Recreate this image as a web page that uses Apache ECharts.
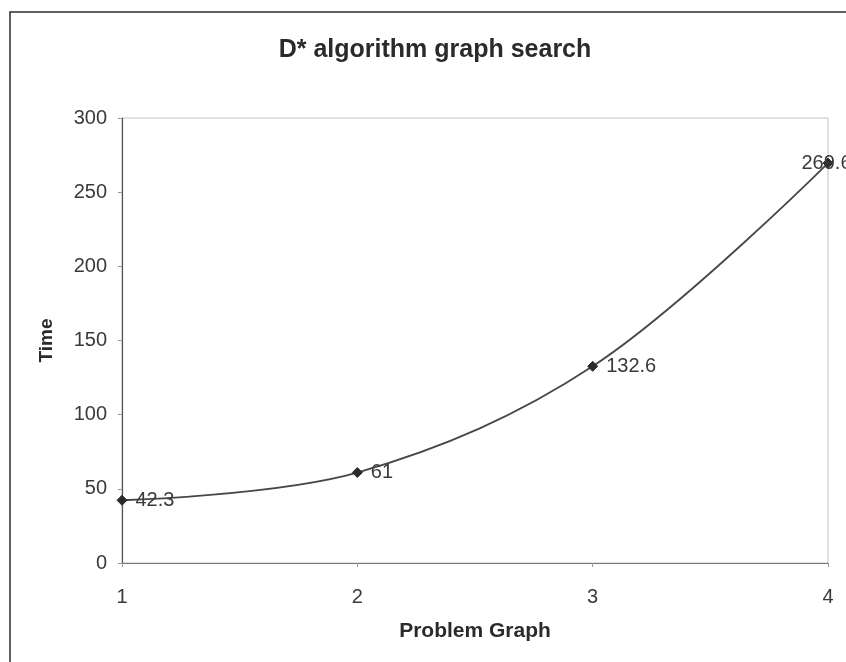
<!DOCTYPE html>
<html>
<head>
<meta charset="utf-8">
<script src="https://cdn.jsdelivr.net/npm/echarts@6/dist/echarts.min.js"></script>
<style>
  html, body { margin: 0; padding: 0; background: #ffffff; }
  #chart { width: 846px; height: 662px; }
</style>
</head>
<body>
<div id="chart"></div>
<script>
// Problem graph index on the x axis, measured search time on the y axis
var problemGraphs = ['1', '2', '3', '4'];
var searchTimes = [42.3, 61, 132.6, 269.6];
var timeTicks = [0, 50, 100, 150, 200, 250, 300];

var FONT = '"Liberation Sans", Arial, sans-serif';

var seriesData = searchTimes.map(function (v, i) {
  var item = { value: v };
  // the last label sits over its marker so it stays inside the frame
  if (i === searchTimes.length - 1) {
    item.label = { offset: [-40, 0] };
  }
  return item;
});

var chart = echarts.init(document.getElementById('chart'), null, { renderer: 'canvas' });

chart.setOption({
  backgroundColor: '#ffffff',
  animation: false,
  title: {
    text: 'D* algorithm graph search',
    left: 430,
    top: 33,
    textAlign: 'center',
    textStyle: {
      fontFamily: FONT,
      fontSize: 25,
      fontWeight: 'bold',
      color: '#2a2a2a'
    }
  },
  graphic: [
    {
      // outer chart frame
      type: 'rect',
      shape: { x: 10, y: 12, width: 900, height: 720 },
      style: { fill: 'none', stroke: '#2b2b2b', lineWidth: 1.5 },
      silent: true
    }
  ],
  grid: {
    left: 122,
    right: 18,
    top: 118,
    bottom: 99,
    show: true,
    borderColor: '#c4c4c4',
    borderWidth: 1,
    backgroundColor: '#ffffff'
  },
  xAxis: {
    type: 'category',
    data: problemGraphs,
    boundaryGap: false,
    name: 'Problem Graph',
    nameLocation: 'middle',
    nameGap: 58,
    nameTextStyle: {
      fontFamily: FONT,
      fontSize: 21,
      fontWeight: 'bold',
      color: '#2a2a2a'
    },
    axisLine: { show: true, lineStyle: { color: '#777777', width: 1.2 } },
    axisTick: { show: true, alignWithLabel: true, length: 4, lineStyle: { color: '#999999' } },
    axisLabel: {
      fontFamily: FONT,
      fontSize: 20,
      color: '#3a3a3a',
      margin: 24
    },
    splitLine: { show: false }
  },
  yAxis: {
    type: 'value',
    min: timeTicks[0],
    max: timeTicks[timeTicks.length - 1],
    interval: timeTicks[1] - timeTicks[0],
    name: 'Time',
    nameLocation: 'middle',
    nameGap: 66,
    nameRotate: 90,
    nameTextStyle: {
      fontFamily: FONT,
      fontSize: 19,
      fontWeight: 'bold',
      color: '#2a2a2a'
    },
    axisLine: { show: true, lineStyle: { color: '#555555', width: 1.2 } },
    axisTick: { show: true, length: 4, lineStyle: { color: '#999999' } },
    axisLabel: {
      fontFamily: FONT,
      fontSize: 20,
      color: '#3a3a3a',
      margin: 15
    },
    splitLine: { show: false }
  },
  series: [
    {
      type: 'line',
      data: seriesData,
      smooth: 0.35,
      symbol: 'diamond',
      symbolSize: 10,
      showAllSymbol: true,
      lineStyle: { color: '#474747', width: 1.8 },
      itemStyle: { color: '#2b2b2b', borderColor: '#2b2b2b' },
      label: {
        show: true,
        position: 'right',
        distance: 8,
        fontFamily: FONT,
        fontSize: 20,
        color: '#3a3a3a'
      },
      z: 3
    }
  ]
});
</script>
</body>
</html>
